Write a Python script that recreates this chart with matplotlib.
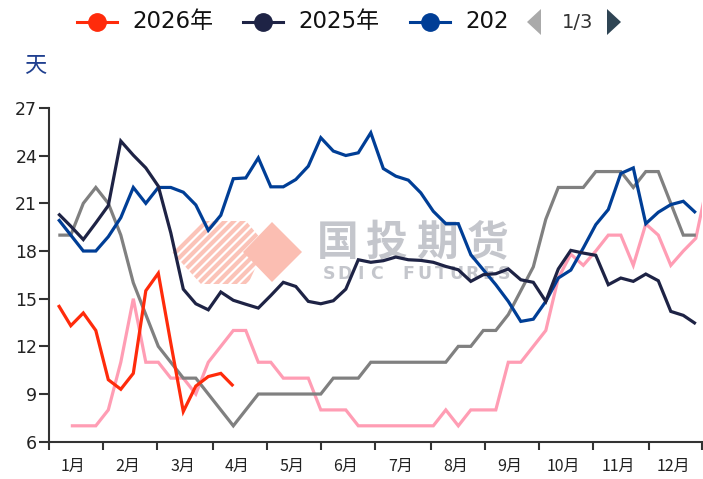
import numpy as np
import matplotlib
matplotlib.use('Agg')
import matplotlib.pyplot as plt
from matplotlib.transforms import IdentityTransform
from matplotlib.patches import Polygon
from matplotlib.lines import Line2D

W, H = 703, 479

# ---------------- data ----------------
weeks = np.arange(53)
s2026 = [14.6, 13.3, 14.1, 13.0, 9.9, 9.3, 10.3, 15.5, 16.6, 12.2, 7.9, 9.5, 10.1, 10.3, 9.5]
s2025 = [20.35, 19.56, 18.72, 19.77, 20.86, 24.92, 24.03, 23.23, 22.08, 19.14,
         15.6, 14.68, 14.30, 15.42, 14.9, 14.65, 14.41, 15.2, 16.03, 15.77,
         14.83, 14.68, 14.87, 15.6, 17.45, 17.29, 17.39, 17.62, 17.45, 17.41,
         17.29, 17.03, 16.82, 16.09, 16.51, 16.57, 16.87, 16.19, 16.03, 14.83,
         16.87, 18.04, 17.87, 17.73, 15.88, 16.30, 16.09, 16.55, 16.13, 14.2,
         13.95, 13.42]
s2024 = [20.0, 19.0, 18.0, 18.0, 18.9, 20.1, 22.0, 21.0, 22.0, 22.0,
         21.7, 20.9, 19.3, 20.25, 22.55, 22.6, 23.86, 22.04, 22.04, 22.5,
         23.34, 25.13, 24.29, 24.01, 24.18, 25.44, 23.19, 22.71, 22.46, 21.66,
         20.5, 19.72, 19.72, 17.77, 16.82, 15.88, 14.83, 13.57, 13.71, 14.83,
         16.3, 16.8, 18.19, 19.66, 20.61, 22.88, 23.23, 19.72, 20.44, 20.92,
         21.13, 20.40]
s2023 = [19, 19, 21, 22, 21, 19, 16, 14, 12, 11,
         10, 10, 9, 8, 7, 8, 9, 9, 9, 9,
         9, 9, 10, 10, 10, 11, 11, 11, 11, 11,
         11, 11, 12, 12, 13, 13, 14, 15.5, 17, 20,
         22, 22, 22, 23, 23, 23, 22, 23, 23, 21,
         19, 19]
s2022 = [np.nan, 7, 7, 7, 8, 11, 15, 11, 11, 10,
         10, 9, 11, 12, 13, 13, 11, 11, 10, 10,
         10, 8, 8, 8, 7, 7, 7, 7, 7, 7,
         7, 8, 7, 8, 8, 8, 11, 11, 12, 13,
         16.3, 17.8, 17.1, 18, 19, 19, 17.1, 19.7, 19, 17.1,
         18, 18.8, 22.5]
series_names = ['2026年', '2025年', '2024年', '2023年', '2022年']
months = ['1月', '2月', '3月', '4月', '5月', '6月', '7月', '8月', '9月', '10月', '11月', '12月']
yticks = [6, 9, 12, 15, 18, 21, 24, 27]
unit_label = '天'

colors = {'2026年': '#FF2B0B', '2025年': '#1E2345', '2024年': '#003E96',
          '2023年': '#808080', '2022年': '#FF9DB4'}

# month boundaries (in week units)
bounds = [-0.744, 3.576, 7.896, 12.376, 16.696, 21.016, 25.336, 29.816,
          34.136, 38.456, 42.776, 47.256, 51.496]

fig = plt.figure(figsize=(W / 100, H / 100), dpi=100)
fig.patch.set_facecolor('white')

ax = fig.add_axes([49 / W, (H - 441.7) / H, 653 / W, 333.7 / H])
ax.set_facecolor('none')
ax.set_xlim(bounds[0], bounds[-1])
ax.set_ylim(6, 27)

lw = 2.3
data = [('2022年', s2022), ('2023年', s2023), ('2024年', s2024), ('2025年', s2025), ('2026年', s2026)]
for i, (name, vals) in enumerate(data):
    ax.plot(weeks[:len(vals)], vals, color=colors[name], lw=lw, zorder=2 + i * 0.1,
            solid_joinstyle='miter', solid_capstyle='butt')

for sp in ['top', 'right']:
    ax.spines[sp].set_visible(False)
for sp in ['left', 'bottom']:
    ax.spines[sp].set_color('#333333')
    ax.spines[sp].set_linewidth(1.5)

ax.set_yticks(yticks)
ax.set_yticklabels([str(v) for v in yticks], fontsize=12.5, color='#222222',
                   family='DejaVu Sans')
ax.tick_params(axis='y', length=7, width=1.5, color='#333333', pad=1.5)

ax.set_xticks(bounds)
ax.set_xticklabels([''] * len(bounds))
ax.tick_params(axis='x', which='major', length=5.5, width=1.5, color='#333333')
mids = [(bounds[i] + bounds[i + 1]) / 2 - 0.2 for i in range(12)]
ax.set_xticks(mids, minor=True)
ax.set_xticklabels(months, minor=True, fontsize=11.5, color='#222222',
                   family=['Noto Sans CJK SC', 'DejaVu Sans'])
ax.tick_params(axis='x', which='minor', length=0, pad=12)

# ---------------- watermark ----------------
idt = IdentityTransform()


def P(x, y):
    return (x, H - y)


stripe_col = '#FBC3B8'
clip = Polygon([P(172, 252), P(202, 221), P(246, 221), P(266, 245), P(248, 284), P(201, 284)],
               closed=True, transform=idt, facecolor='none', edgecolor='none')
ax.add_patch(clip)
clip.set_visible(False)
for c in np.arange(-140, 200, 9.0):
    xs = np.array([150, 300])
    ys = -(xs - 172) + 252 + c
    ln = Line2D(xs, H - ys, transform=idt, color=stripe_col, lw=3.0, zorder=1)
    ax.add_line(ln)
    ln.set_clip_path(clip)

diamond = Polygon([P(243, 252), P(272, 222), P(302, 252), P(272, 282)], closed=True,
                  transform=idt, facecolor='#FBBEB2', edgecolor='none', zorder=1.1)
ax.add_patch(diamond)

wm_col = '#C4C6CC'
for ch, cx in zip('国投期货', [337.5, 386.5, 436.5, 487.5]):
    ax.text(cx, H - 243, ch, transform=idt, fontsize=30, fontweight='bold', color=wm_col,
            family='Noto Sans CJK SC', ha='center', va='center', zorder=1)
sd = 'SDIC FUTURES'
sx = np.linspace(329, 504, len(sd))
for ch, cx in zip(sd, sx):
    if ch != ' ':
        ax.text(cx, H - 274, ch, transform=idt, fontsize=12.5, fontweight='bold', color=wm_col,
                family='DejaVu Sans', ha='center', va='center', zorder=1)

# ---------------- legend ----------------
leg_y = 22
items = [('2026年', 97, '2026年'), ('2025年', 263, '2025年'), ('2024年', 430, '202')]
for name, cx, label in items:
    c = colors[name]
    fig.add_artist(Line2D([cx - 20, cx + 20], [H - leg_y, H - leg_y], transform=idt, color=c, lw=2.2))
    fig.add_artist(Line2D([cx], [H - leg_y], transform=idt, marker='o', markersize=12.5,
                          markerfacecolor=c, markeredgecolor=c, lw=0))
    fig.text((cx + 35) / W, 1 - leg_y / H, label, fontsize=16.5, color='#111111',
             family=['DejaVu Sans', 'Noto Sans CJK SC'], ha='left', va='center')

fig.add_artist(Polygon([P(527, 22), P(541, 9), P(541, 35)], closed=True, transform=idt,
                       facecolor='#AAAAAA', edgecolor='none'))
fig.text(578 / W, 1 - 22 / H, '1/3', fontsize=14, color='#333333', family='DejaVu Sans',
         ha='center', va='center')
fig.add_artist(Polygon([P(607, 9), P(621, 22), P(607, 35)], closed=True, transform=idt,
                       facecolor='#2F4554', edgecolor='none'))

fig.text(35 / W, 1 - 66 / H, unit_label, fontsize=16, color='#1F3F8F',
         family=['Noto Sans CJK SC', 'DejaVu Sans'], ha='center', va='center')

fig.savefig('out.png', dpi=100)
